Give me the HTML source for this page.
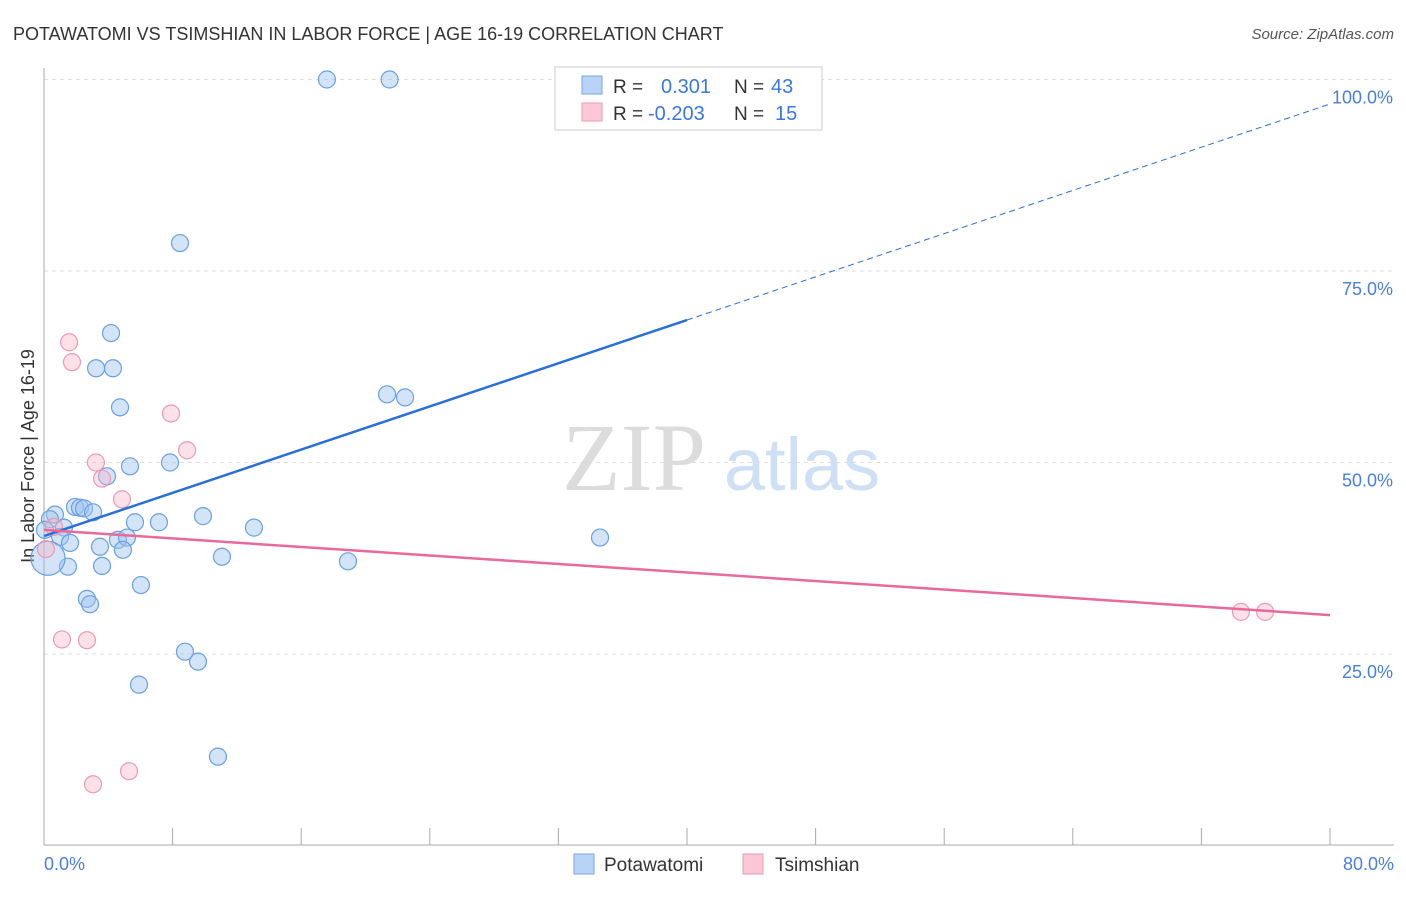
<!DOCTYPE html>
<html><head><meta charset="utf-8"><style>
body{margin:0;background:#fff;font-family:"Liberation Sans",sans-serif}
</style></head><body>
<svg width="1406" height="892" xmlns="http://www.w3.org/2000/svg" id="svg">
<text x="13" y="40" font-size="18" fill="#333">POTAWATOMI VS TSIMSHIAN IN LABOR FORCE | AGE 16-19 CORRELATION CHART</text>
<text x="1394" y="39" font-size="15" fill="#555" font-style="italic" text-anchor="end">Source: ZipAtlas.com</text>
<g>
<text x="634" y="490" font-size="96" fill="#dcdcdc" font-family="Liberation Serif,serif" text-anchor="middle">ZIP</text>
<text x="802" y="490" font-size="74" fill="#cfe0f5" text-anchor="middle">atlas</text>
</g>
<g id="grid"></g>
<line x1="44" y1="68" x2="44" y2="845" stroke="#aaa"/>
<line x1="44" y1="845" x2="1394" y2="845" stroke="#aaa"/>
<g id="xticks"></g>
<text x="44" y="870" font-size="18" fill="#4a7fd6">0.0%</text>
<text x="1394" y="870" font-size="18" fill="#4a7fd6" text-anchor="end">80.0%</text>
<text transform="translate(34,456) rotate(-90)" font-size="18" fill="#333" text-anchor="middle">In Labor Force | Age 16-19</text>
<g id="pts"></g>
<g id="lines"></g>
<g>
<rect x="555" y="67" width="267" height="63" fill="#fff" stroke="#ccc"/>
<rect x="582" y="76" width="20" height="18" fill="#b8d3f6" stroke="#7aa7e2"/>
<rect x="582" y="103" width="20" height="18" fill="#fbc8d8" stroke="#eb9ab6"/>
<text x="613" y="93" font-size="19" fill="#333">R = <tspan x="661" fill="#3b78d8" font-size="20">0.301</tspan><tspan x="734" fill="#333">N = </tspan><tspan x="771" fill="#3b78d8" font-size="20">43</tspan></text>
<text x="613" y="120" font-size="19" fill="#333">R = <tspan x="648" fill="#3b78d8" font-size="20">-0.203</tspan><tspan x="734" fill="#333">N = </tspan><tspan x="775" fill="#3b78d8" font-size="20">15</tspan></text>
</g>
<g>
<rect x="574" y="854" width="20" height="20" fill="#b8d3f6" stroke="#7aa7e2"/>
<text x="604" y="871" font-size="19" fill="#333">Potawatomi</text>
<rect x="743" y="854" width="20" height="20" fill="#fbc8d8" stroke="#eb9ab6"/>
<text x="775" y="871" font-size="19" fill="#333">Tsimshian</text>
</g>
</svg>
<script>
const yTicks=[25,50,75,100];
const yTickLabels=["25.0%","50.0%","75.0%","100.0%"];
const xTickVals=[0,8,16,24,32,40,48,56,64,72,80];
const blueX=[17.6,21.5,8.46,4.17,3.24,4.29,4.73,21.34,22.46,5.35,7.84,3.92,1.93,2.24,2.49,3.05,0.68,9.89,0.37,1.24,5.66,7.15,13.06,1.0,1.62,3.48,4.6,5.16,4.91,34.59,11.07,18.91,1.49,3.61,6.03,2.67,2.86,8.77,9.58,5.91,10.82,0.25,0.06];
const blueY=[100,100,78.65,66.9,62.3,62.3,57.2,58.9,58.5,49.5,50.0,48.2,44.2,44.1,44.0,43.5,43.2,43.0,42.6,41.5,42.2,42.2,41.5,40.3,39.5,39.0,39.9,40.2,38.6,40.2,37.7,37.1,36.4,36.5,34.0,32.2,31.5,25.3,24.0,21.0,11.6,37.5,41.2];
const pinkX=[1.56,1.74,7.9,8.9,3.23,3.61,4.85,0.62,0.12,1.12,2.67,3.05,5.29,74.46,75.96];
const pinkY=[65.7,63.1,56.4,51.6,50.0,47.9,45.2,41.6,38.7,26.9,26.8,8.0,9.7,30.5,30.5];
const blueTrend=[40.4,0.705];
const pinkTrend=[41.2,-0.139];
const X=v=>44+v*16.075, Y=v=>845.5-v*7.66;
const NS="http://www.w3.org/2000/svg";
function mk(t,a,p){const e=document.createElementNS(NS,t);for(const k in a)e.setAttribute(k,a[k]);document.getElementById(p).appendChild(e);return e;}
yTicks.forEach((v,i)=>{
const l=mk('line',{x1:44,x2:1394,y1:Y(v),y2:Y(v),stroke:'#ddd','stroke-dasharray':'4,4'},'grid');


const t=mk('text',{x:1393,y:Y(v)+24,'font-size':18,fill:'#4a7fd6','text-anchor':'end'},'grid');
t.textContent=yTickLabels[i];


});
xTickVals.forEach(v=>{
const l=mk('line',{x1:X(v),x2:X(v),y1:828,y2:845,stroke:'#aaa'},'xticks');


});
blueX.forEach((x,i)=>{
const r=(i===41)?17:8.5;
const c=mk('circle',{cx:X(x),cy:Y(blueY[i]),r:r,fill:'rgba(160,196,240,0.45)',stroke:'#6a9fe0','stroke-width':1.2},'pts');


});
pinkX.forEach((x,i)=>{
const c=mk('circle',{cx:X(x),cy:Y(pinkY[i]),r:8.5,fill:'rgba(248,180,200,0.4)',stroke:'#eb9ab6','stroke-width':1.2},'pts');


});
const b1=mk('line',{x1:X(0),y1:Y(blueTrend[0]),x2:X(40),y2:Y(blueTrend[0]+40*blueTrend[1]),stroke:'#2a6fd6','stroke-width':2.5},'lines');


const b2=mk('line',{x1:X(40),y1:Y(blueTrend[0]+40*blueTrend[1]),x2:X(80),y2:Y(blueTrend[0]+80*blueTrend[1]),stroke:'#2a6fd6','stroke-width':1,'stroke-dasharray':'6,4'},'lines');


const p1=mk('line',{x1:X(0),y1:Y(pinkTrend[0]),x2:X(80),y2:Y(pinkTrend[0]+80*pinkTrend[1]),stroke:'#e8699a','stroke-width':2.5},'lines');


</script>
</body></html>
